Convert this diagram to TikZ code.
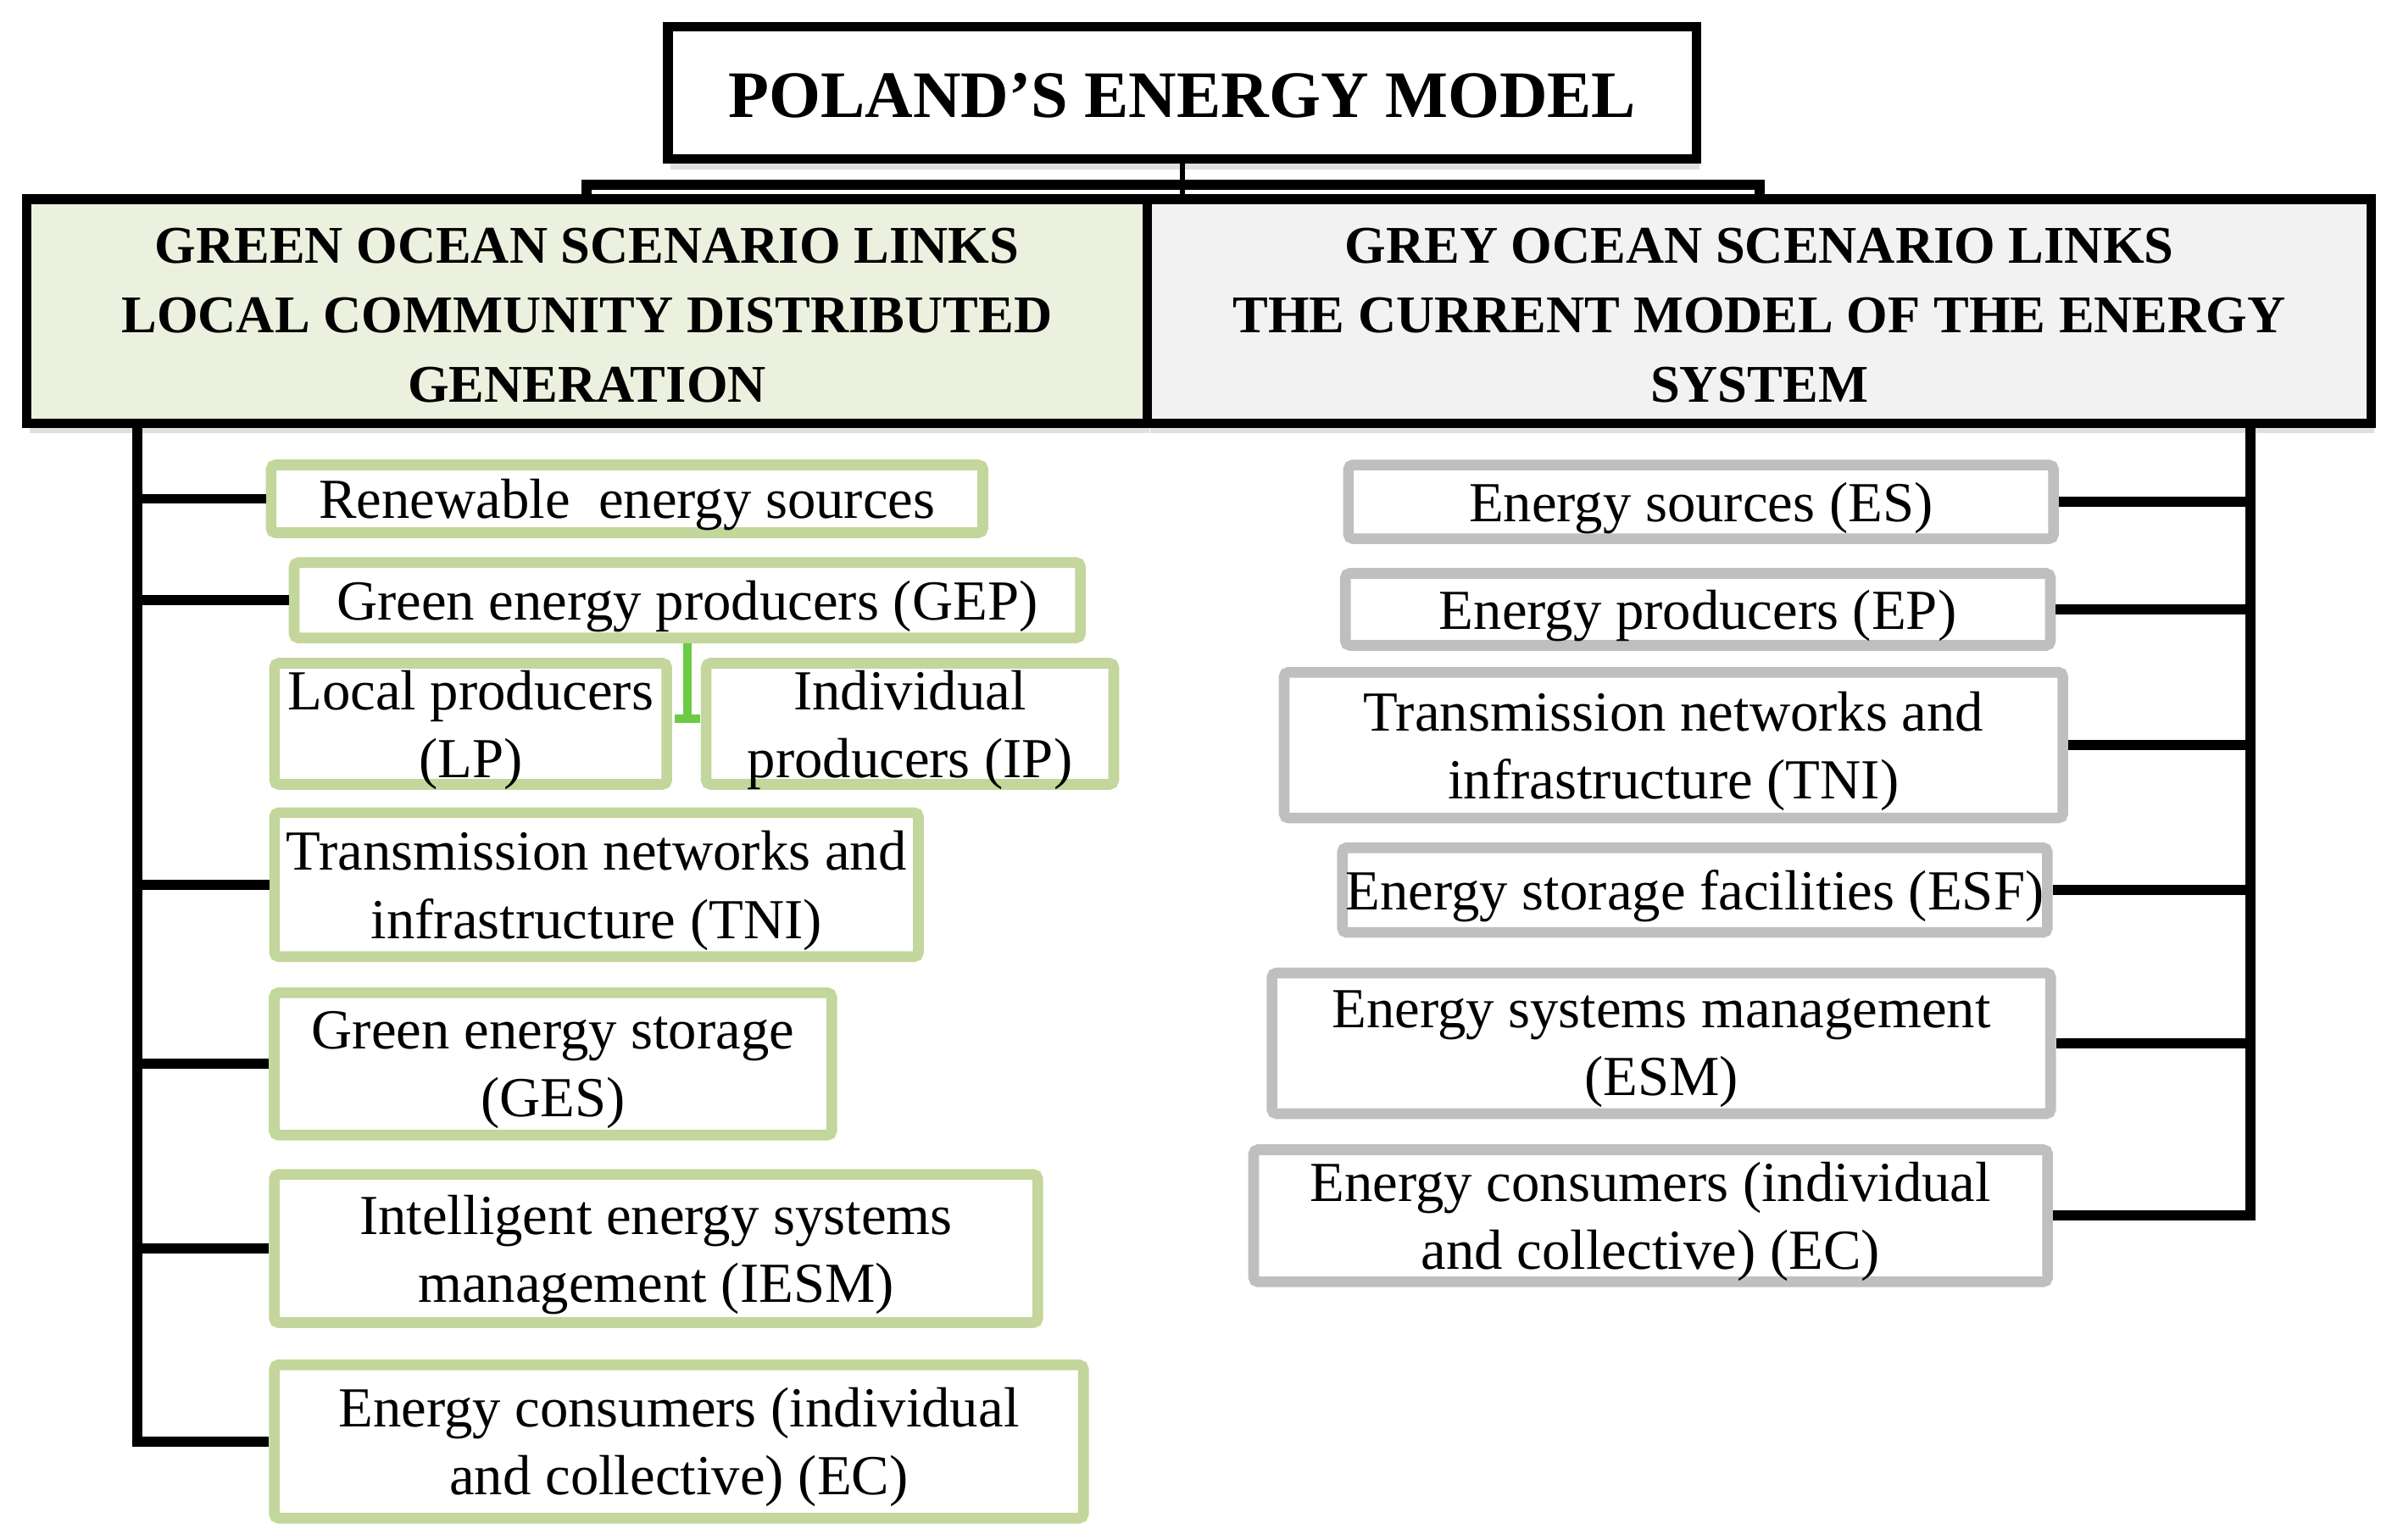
\documentclass[tikz,border=0pt]{standalone}
\usepackage{fontspec}
\setmainfont{Liberation Serif}
\usepackage{tikz}
\usetikzlibrary{positioning,arrows.meta,shadows}
\definecolor{greenline}{HTML}{C3D69B}
\definecolor{greenfill}{HTML}{EBF1DE}
\definecolor{greyline}{HTML}{BFBFBF}
\definecolor{greyfill}{HTML}{F2F2F2}
\definecolor{tickgreen}{HTML}{6CCB45}

\begin{document}
\begin{tikzpicture}[x=0.018cm, y=-0.018cm,
  softshadow/.style={drop shadow={shadow xshift=0.03cm, shadow yshift=-0.12cm, opacity=0.25}},
  titlebox/.style={draw, line width=3.2pt, fill=white, softshadow, inner sep=0pt,
    font=\fontsize{22.3}{26}\selectfont\bfseries, minimum width=12.14cm, minimum height=1.56cm,
    execute at begin node={\rule{0pt}{16.8pt}}},
  headbox/.style={draw, line width=3.2pt, softshadow, inner sep=0pt, align=center,
    font=\fontsize{17.8}{23.4}\selectfont\bfseries, minimum height=2.646cm,
    text height=61.3pt, text depth=0pt},
  greenbox/.style={draw=greenline, line width=3.6pt, fill=white, rounded corners=1.5pt,
    inner sep=0pt, align=center, font=\fontsize{19}{22.8}\selectfont, text depth=0pt},
  greybox/.style={greenbox, draw=greyline},
  link/.style={line width=3.4pt},
  tick/.style={draw=tickgreen, line width=3pt, -{Bar[width=0.3cm]}}
]
\useasboundingbox (0,0) rectangle (1568,1009.5);

% top of the tree
\node[titlebox] (model) at (775,61) {POLAND’S ENERGY MODEL};
\node[headbox, fill=greenfill, minimum width=13.22cm] (green) at (384.75,204)
  {GREEN OCEAN SCENARIO LINKS\\LOCAL COMMUNITY DISTRIBUTED\\GENERATION};
\node[headbox, fill=greyfill, minimum width=14.445cm] (grey) at (1153.25,204)
  {GREY OCEAN SCENARIO LINKS\\THE CURRENT MODEL OF THE ENERGY\\SYSTEM};
\coordinate (bar) at (775,121);
\draw[line width=1.8pt] (model.south) -- (model.south |- grey.north);
\draw[link] (green.north) |- (bar) -| (grey.north);

% green side
\node[greenbox, minimum width=8.40cm, minimum height=0.80cm] (res) at (411,327) {Renewable\ \ energy sources};
\node[greenbox, minimum width=9.28cm, minimum height=0.89cm] (gep) at (450.5,393.5) {Green energy producers (GEP)};
\node[greenbox, minimum width=4.63cm, minimum height=1.43cm] (lp) at (308.5,474.5) {Local producers\\(LP)};
\node[greenbox, minimum width=4.81cm, minimum height=1.43cm] (ip) at (596.5,474.5) {Individual\\producers (IP)};
\node[greenbox, minimum width=7.60cm, minimum height=1.70cm] (tnil) at (391,580) {Transmission networks and\\infrastructure (TNI)};
\node[greenbox, minimum width=6.58cm, minimum height=1.68cm] (ges) at (362.5,697.5) {Green energy storage\\(GES)};
\node[greenbox, minimum width=9.01cm, minimum height=1.75cm] (iesm) at (430,818.5) {Intelligent energy systems\\management (IESM)};
\node[greenbox, minimum width=9.55cm, minimum height=1.81cm] (ecl) at (445,945) {Energy consumers (individual\\and collective) (EC)};
\coordinate (split) at (450.5,474);
\draw[tick] (gep.south) -- (split);

% grey side
\node[greybox, minimum width=8.32cm, minimum height=0.87cm] (es) at (1115,329) {Energy sources (ES)};
\node[greybox, minimum width=8.32cm, minimum height=0.85cm] (ep) at (1113,399.5) {Energy producers (EP)};
\node[greybox, minimum width=9.19cm, minimum height=1.72cm] (tnir) at (1097,488.5) {Transmission networks and\\infrastructure (TNI)};
\node[greybox, minimum width=8.32cm, minimum height=1.00cm] (esf) at (1111,583.5) {Energy storage facilities (ESF)};
\node[greybox, minimum width=9.19cm, minimum height=1.66cm] (esm) at (1089,684) {Energy systems management\\(ESM)};
\node[greybox, minimum width=9.37cm, minimum height=1.56cm] (ecr) at (1082,797) {Energy consumers (individual\\and collective) (EC)};

% trunks
\coordinate (ltrunk) at (90,280);
\coordinate (rtrunk) at (1475,280);
\draw[link] (ltrunk) |- (ecl.west);
\foreach \n in {res,gep,tnil,ges,iesm}
  \draw[link] (ltrunk |- \n.west) -- (\n.west);
\draw[link] (rtrunk) |- (ecr.east);
\foreach \n in {es,ep,tnir,esf,esm}
  \draw[link] (rtrunk |- \n.east) -- (\n.east);
\end{tikzpicture}
\end{document}
